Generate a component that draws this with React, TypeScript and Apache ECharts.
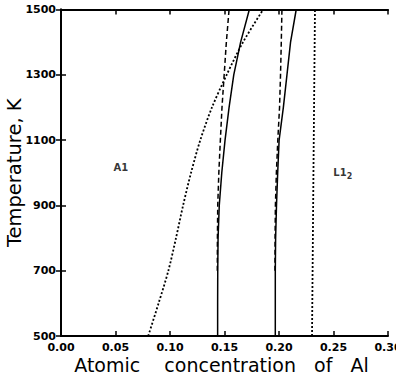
import React, { useEffect, useRef } from "react";
import * as echarts from "echarts";

// Temperature grid (K) on which the phase boundaries are sampled
const temps = [500, 600, 700, 800, 900, 1000, 1100, 1200, 1300, 1400, 1500];
const dashedTemps = [700, 800, 900, 1000, 1100, 1200, 1300, 1400, 1500];

// Al concentration of each boundary at the temperatures above
const dottedLeft = [0.080, 0.0895, 0.0985, 0.1055, 0.1120, 0.1193, 0.1278, 0.1385, 0.1520, 0.1670, 0.1855];
const solidLeft = [0.1437, 0.1437, 0.1438, 0.1441, 0.1452, 0.1475, 0.1505, 0.1542, 0.1585, 0.1648, 0.1728];
const dashedLeft = [0.1434, 0.1435, 0.1438, 0.1448, 0.1462, 0.1477, 0.1497, 0.1517, 0.1542];
const solidRight = [0.1966, 0.1966, 0.1966, 0.1969, 0.1977, 0.1988, 0.2001, 0.2040, 0.2073, 0.2106, 0.2158];
const dashedRight = [0.1963, 0.1964, 0.1967, 0.1976, 0.1989, 0.2005, 0.2014, 0.2021, 0.2027];
const dottedRightTemps = [500, 1000, 1500];
const dottedRight = [0.2303, 0.2316, 0.2330];

// Tick values
const xTicks = [0, 0.05, 0.1, 0.15, 0.2, 0.25, 0.3];
const yTicks = [500, 700, 900, 1100, 1300, 1500];

// Phase-region labels [concentration, temperature, text]
const regionLabels: [number, number, string][] = [
  [0.055, 1015, "{a|A1}"],
  [0.2585, 1000, "{a|L1}{s|2}"],
];

const FONT = "DejaVu Sans";

function toPairs(xs: number[], ts: number[]) {
  return ts.map((t, i) => [xs[i], t]);
}

export default function App() {
  const ref = useRef<HTMLDivElement>(null);

  useEffect(() => {
    if (!ref.current) return;
    const chart = echarts.init(ref.current, undefined, { renderer: "svg" });

    const tickLabel = {
      fontFamily: FONT,
      fontWeight: "bold" as const,
      fontSize: 11,
      color: "#000",
    };
    const axisLine = { show: true, lineStyle: { color: "#000", width: 2 } };
    const axisTick = (vals: number[]) => ({
      show: true,
      inside: true,
      length: 5,
      customValues: vals,
      lineStyle: { color: "#000", width: 1.5 },
    });

    const line = (data: number[][], type: any, width = 1.5, smooth: number | boolean = false) => ({
      type: "line",
      data,
      showSymbol: false,
      symbol: "none",
      smooth,
      lineStyle: { color: "#000", width, type },
      z: 3,
    });

    chart.setOption({
      animation: false,
      backgroundColor: "#fff",
      grid: { left: 61, right: 8, top: 9.5, bottom: 42, outerBoundsMode: "none", containLabel: false },
      xAxis: [
        {
          type: "value",
          position: "bottom",
          min: 0,
          max: 0.3,
          axisLine,
          axisTick: axisTick(xTicks),
          axisLabel: {
            ...tickLabel,
            customValues: xTicks,
            margin: 6,
            formatter: (v: number) => v.toFixed(2),
          },
          splitLine: { show: false },
          name: "Atomic\u00A0\u00A0\u00A0\u00A0concentration\u00A0\u00A0\u00A0of\u00A0\u00A0\u00A0Al",
          nameLocation: "middle",
          nameGap: 19,
          nameMoveOverlap: false,
          nameTextStyle: { fontFamily: FONT, fontSize: 19, color: "#000", padding: [0, 6, 0, 0] },
        },
        {
          type: "value",
          position: "top",
          min: 0,
          max: 0.3,
          axisLine,
          axisTick: axisTick(xTicks),
          axisLabel: { show: false },
          splitLine: { show: false },
        },
      ],
      yAxis: [
        {
          type: "value",
          position: "left",
          min: 500,
          max: 1500,
          axisLine,
          axisTick: axisTick(yTicks),
          axisLabel: {
            ...tickLabel,
            customValues: yTicks,
            margin: 5,
            formatter: (v: number) => String(v),
          },
          splitLine: { show: false },
          name: "Temperature,\u00A0K",
          nameLocation: "middle",
          nameGap: 37,
          nameMoveOverlap: false,
          nameTextStyle: { fontFamily: FONT, fontSize: 19.5, color: "#000" },
        },
        {
          type: "value",
          position: "right",
          min: 500,
          max: 1500,
          axisLine,
          axisTick: axisTick(yTicks),
          axisLabel: { show: false },
          splitLine: { show: false },
        },
      ],
      series: [
        line(toPairs(dottedLeft, temps), [2, 2], 1.8, 0.3),
        line(toPairs(dashedLeft, dashedTemps), [5, 3]),
        line(toPairs(solidLeft, temps), "solid"),
        line(toPairs(dashedRight, dashedTemps), [5, 3]),
        line(toPairs(solidRight, temps), "solid"),
        line(toPairs(dottedRight, dottedRightTemps), [2, 2], 1.8),
        {
          type: "scatter",
          data: regionLabels.map((d) => [d[0], d[1], d[2]]),
          symbolSize: 0,
          label: {
            show: true,
            position: "inside",
            formatter: (p: any) => p.data[2],
            rich: {
              a: { fontFamily: FONT, fontWeight: "bold", fontSize: 10, color: "#000", lineHeight: 14 },
              s: {
                fontFamily: FONT,
                fontWeight: "bold",
                fontSize: 8,
                color: "#000",
                lineHeight: 14,
                padding: [8, 0, 0, 0],
              },
            },
          },
        },
      ],
    });

    return () => chart.dispose();
  }, []);

  return (
    <div style={{ position: "fixed", left: 0, top: 0, width: 396, height: 378, background: "#fff" }}>
      <div ref={ref} style={{ width: 396, height: 378 }} />
    </div>
  );
}
